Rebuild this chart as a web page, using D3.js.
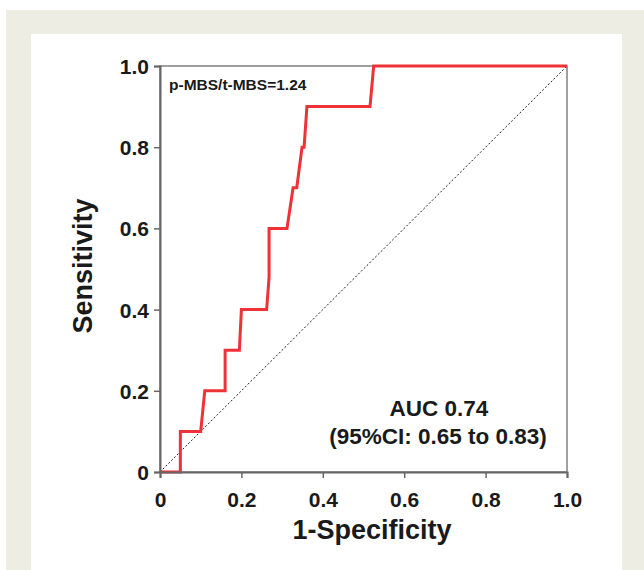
<!DOCTYPE html>
<html>
<head>
<meta charset="utf-8">
<script src="https://cdn.jsdelivr.net/npm/d3@7"></script>
<style>
  body { margin: 0; background: #fff; }
  text { font-family: "Liberation Sans", Arial, sans-serif; font-weight: bold; fill: #1a1a1a; }
</style>
</head>
<body>
<svg id="chart" width="644" height="570"></svg>
<script>
// ROC curve points (1-specificity, sensitivity)
const fpr = [0, 0.05, 0.05, 0.10, 0.11, 0.16, 0.16, 0.195, 0.20, 0.262, 0.268, 0.268, 0.312, 0.327, 0.336, 0.349, 0.354, 0.361, 0.516, 0.525, 1.0];
const tpr = [0, 0, 0.10, 0.10, 0.20, 0.20, 0.30, 0.30, 0.40, 0.40, 0.48, 0.60, 0.60, 0.70, 0.70, 0.80, 0.80, 0.90, 0.90, 1.0, 1.0];
const xTicks = [0, 0.2, 0.4, 0.6, 0.8, 1.0];
const yTicks = [0, 0.2, 0.4, 0.6, 0.8, 1.0];
const tickLabels = ["0", "0.2", "0.4", "0.6", "0.8", "1.0"];

const svg = d3.select("#chart");

// page background and white panel
svg.append("rect").attr("x", 6).attr("y", 10).attr("width", 638).attr("height", 560).attr("fill", "#eeede3");
svg.append("rect").attr("x", 31).attr("y", 34).attr("width", 591).attr("height", 536).attr("fill", "#fff");

const margin = { left: 160, top: 66 },
      width = 407, height = 406;

const x = d3.scaleLinear().domain([0, 1]).range([0, width]);
const y = d3.scaleLinear().domain([0, 1]).range([height, 0]);

const g = svg.append("g").attr("transform", `translate(${margin.left},${margin.top})`);

// frame
g.append("rect")
  .attr("width", width).attr("height", height)
  .attr("fill", "none").attr("stroke", "#808080").attr("stroke-width", 1.5);

// reference diagonal
g.append("line")
  .attr("x1", x(0)).attr("y1", y(0)).attr("x2", x(1)).attr("y2", y(1))
  .attr("stroke", "#222").attr("stroke-width", 1).attr("stroke-dasharray", "2,2");

// ROC curve
const pts = fpr.map((d, i) => [d, tpr[i]]);
g.append("path")
  .datum(pts)
  .attr("fill", "none")
  .attr("stroke", "#ef3237")
  .attr("stroke-width", 3)
  .attr("stroke-linejoin", "miter")
  .attr("d", d3.line().x(d => x(d[0])).y(d => y(d[1])));

// axes
const xAxis = g.append("g").attr("transform", `translate(0,${height})`)
  .call(d3.axisBottom(x).tickValues(xTicks).tickFormat((d, i) => tickLabels[i]).tickSize(6).tickPadding(14));
const yAxis = g.append("g")
  .call(d3.axisLeft(y).tickValues(yTicks).tickFormat((d, i) => tickLabels[i]).tickSize(6).tickPadding(5));

[xAxis, yAxis].forEach(a => {
  a.select(".domain").attr("stroke", "#666").attr("stroke-width", 2);
  a.selectAll(".tick line").attr("stroke", "#666").attr("stroke-width", 1.5);
  a.selectAll(".tick text").style("font-size", "21px").style("font-family", "'Liberation Sans', Arial, sans-serif").style("font-weight", "bold").attr("fill", "#1a1a1a");
});
yAxis.selectAll(".tick text").attr("dy", "0.36em");

// axis titles
svg.append("text")
  .attr("x", 372).attr("y", 539)
  .attr("text-anchor", "middle").style("font-size", "27px")
  .text("1-Specificity");
svg.append("text")
  .attr("transform", `translate(92,266) rotate(-90)`)
  .attr("text-anchor", "middle").style("font-size", "27px")
  .text("Sensitivity");

// annotations
g.append("text").attr("x", 9).attr("y", 24).style("font-size", "15.5px").text("p-MBS/t-MBS=1.24");
svg.append("text").attr("x", 439).attr("y", 416).attr("text-anchor", "middle").style("font-size", "22.5px").text("AUC 0.74");
svg.append("text").attr("x", 438).attr("y", 444).attr("text-anchor", "middle").style("font-size", "22.5px").text("(95%CI: 0.65 to 0.83)");
</script>
</body>
</html>
